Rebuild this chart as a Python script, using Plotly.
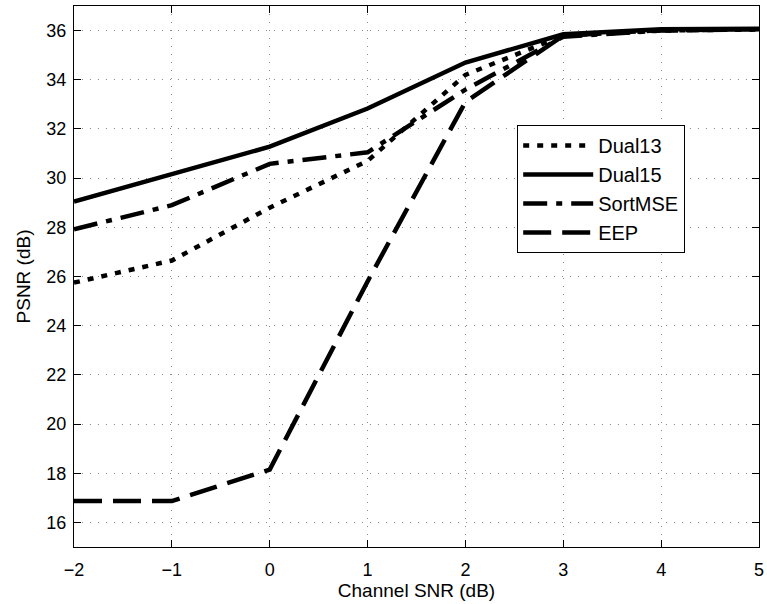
import plotly.graph_objects as go

snr = [-2, -1, 0, 1, 2, 3, 4, 5]
dual13 = [25.75, 26.65, 28.8, 30.7, 34.2, 35.8, 36.0, 36.05]
dual15 = [29.05, 30.18, 31.28, 32.83, 34.7, 35.85, 36.05, 36.07]
sortmse = [27.92, 28.9, 30.58, 31.05, 33.6, 35.75, 36.0, 36.05]
eep = [16.87, 16.87, 18.15, 25.8, 33.1, 35.8, 36.02, 36.05]
x_ticks = [-2, -1, 0, 1, 2, 3, 4, 5]
y_ticks = [16, 18, 20, 22, 24, 26, 28, 30, 32, 34, 36]

series = [
    ("Dual13", dual13, "6px,8px"),
    ("Dual15", dual15, "solid"),
    ("SortMSE", sortmse, "24px,9px,6px,9px"),
    ("EEP", eep, "28px,11px"),
]

fig = go.Figure()
for name, ys, dash in series:
    fig.add_trace(go.Scatter(
        x=snr, y=ys, mode="lines", name=name, legendgroup=name,
        line=dict(color="black", width=4.5, dash=dash),
    ))

font = "Liberation Sans, Arial, Helvetica, sans-serif"
axis_common = dict(
    showline=True, linecolor="black", linewidth=1, mirror="ticks",
    ticks="inside", ticklen=7, tickcolor="black",
    showgrid=True, gridcolor="#8a8a8a", griddash="1px,7px", gridwidth=1,
    zeroline=False, tickfont=dict(size=18, color="black", family=font),
)
fig.update_xaxes(range=[-2, 5], tickvals=x_ticks, ticklabelstandoff=6,
                 title=dict(text="Channel SNR (dB)", font=dict(size=19, family=font, color="black"), standoff=5),
                 **axis_common)
fig.update_yaxes(range=[15, 37], tickvals=y_ticks, ticklabelstandoff=3,
                 title=dict(text="PSNR (dB)", font=dict(size=19, family=font, color="black"), standoff=10),
                 **axis_common)

fig.update_layout(
    width=767, height=604,
    margin=dict(l=74, r=8, t=6, b=57, autoexpand=False),
    plot_bgcolor="white", paper_bgcolor="white",
    font=dict(family=font, color="black"),
    legend=dict(
        x=0.647, y=0.78, xanchor="left", yanchor="top",
        bgcolor="white", bordercolor="black", borderwidth=1,
        font=dict(size=20, family=font, color="black"),
        tracegroupgap=0, traceorder="grouped", itemwidth=70,
    ),
    showlegend=True,
)

fig.write_html("out.html", config={"displayModeBar": False},
               post_script="document.body.style.margin='0px';document.body.style.overflow='hidden';")
